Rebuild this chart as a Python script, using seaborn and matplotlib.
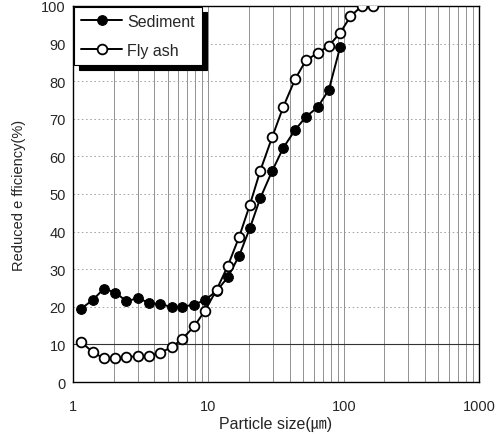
import numpy as np
import pandas as pd
import matplotlib
matplotlib.use("Agg")
import matplotlib.pyplot as plt
import seaborn as sns
from matplotlib.ticker import LogLocator, FixedLocator, NullFormatter

# particle size bins (um)
sed_size = [1.15, 1.41, 1.69, 2.06, 2.48, 3.04, 3.66, 4.40, 5.36, 6.43, 7.87, 9.45,
            11.5, 13.9, 16.9, 20.3, 24.2, 29.6, 35.8, 43.7, 52.5, 64.3, 77.6, 94.0]
sed_eff = [19.5, 21.9, 24.8, 23.8, 21.5, 22.3, 21.0, 20.7, 20.0, 20.0, 20.6, 21.8,
           24.2, 27.8, 33.6, 41.0, 48.9, 56.1, 62.3, 67.0, 70.5, 73.1, 77.7, 89.0]

ash_size = [1.15, 1.41, 1.69, 2.06, 2.48, 3.04, 3.66, 4.40, 5.36, 6.43, 7.87, 9.45,
            11.5, 13.9, 16.9, 20.3, 24.2, 29.6, 35.8, 43.7, 52.5, 64.3, 77.6, 94.0,
            112, 136, 164]
ash_eff = [10.6, 7.9, 6.3, 6.3, 6.6, 6.9, 6.9, 7.8, 9.2, 11.5, 14.8, 19.0,
           24.5, 30.8, 38.6, 47.2, 56.2, 65.1, 73.2, 80.5, 85.5, 87.5, 89.4, 92.8,
           97.2, 100.0, 100.0]

y_ticks = list(range(0, 101, 10))
x_ticks = [1, 10, 100, 1000]

sns.set_theme(style="white")
plt.rcParams['font.family'] = ['Liberation Sans', 'Noto Sans CJK KR', 'DejaVu Sans']

fig = plt.figure(figsize=(4.96, 4.35), dpi=100)
ax = fig.add_axes([0.147, 0.1195, 0.819, 0.8645])

ax.set_xscale('log')
ax.set_xlim(1, 1000)
ax.set_ylim(0, 100)

# grid: every log minor/major position vertically, every 10 % horizontally
ax.xaxis.set_major_locator(FixedLocator(x_ticks))
ax.xaxis.set_minor_locator(LogLocator(base=10, subs=np.arange(2, 10)))
ax.xaxis.set_minor_formatter(NullFormatter())
ax.set_xticklabels([str(t) for t in x_ticks])
ax.set_yticks(y_ticks)
ax.grid(which='both', axis='x', color='0.5', lw=0.6)
ax.grid(which='major', axis='y', color='0.6', lw=0.6, ls=(0, (2, 3)))
ax.axhline(10, color='0.2', lw=0.8, zorder=1)

sns.lineplot(x=sed_size, y=sed_eff, ax=ax, color='black', lw=1.4,
             marker='o', markersize=7, markerfacecolor='black',
             markeredgecolor='black', label='Sediment', zorder=3)
sns.lineplot(x=ash_size, y=ash_eff, ax=ax, color='black', lw=1.4,
             marker='o', markersize=7, markerfacecolor='white',
             markeredgecolor='black', markeredgewidth=1.3, label='Fly ash', zorder=3)

ax.tick_params(axis='both', which='both', direction='in', length=3, color='black',
               labelsize=10.5)
ax.tick_params(axis='y', pad=5)
ax.tick_params(axis='x', pad=12)
ax.tick_params(axis='x', which='minor', length=0)
for s in ax.spines.values():
    s.set_color('black')
    s.set_linewidth(1.0)

ax.set_xlabel('Particle size(㎛)', fontsize=11.5, labelpad=2)
ax.set_ylabel('Reduced e fficiency(%)', fontsize=10.5, labelpad=11)

leg = ax.legend(loc='upper left', borderaxespad=0.05, fancybox=False,
                edgecolor='black', framealpha=1, fontsize=11.5,
                handlelength=2.6, handletextpad=0.3, labelspacing=0.85,
                borderpad=0.45,
                shadow={'ox': 3.5, 'oy': -3.5, 'color': 'black', 'alpha': 1})
leg.get_frame().set_linewidth(0.8)

fig.savefig('out.png', dpi=100)
